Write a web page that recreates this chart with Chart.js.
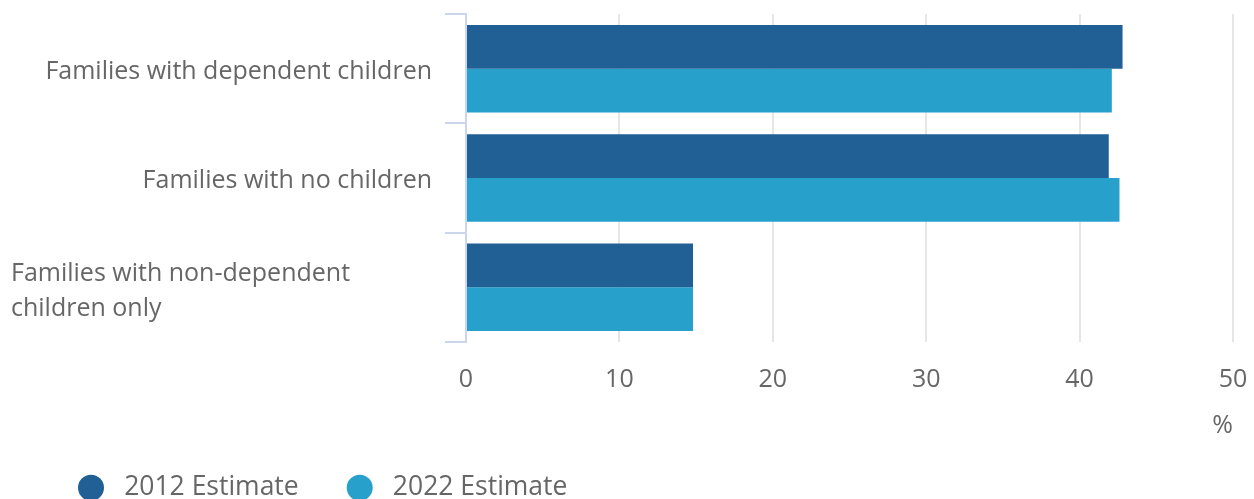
<!DOCTYPE html>
<html lang="en">
  <head>
    <meta charset="UTF-8" />
    <title>Families by type</title>
    <script src="https://cdn.jsdelivr.net/npm/chart.js@4.4.1/dist/chart.umd.min.js"></script>
    <style>
      html, body { margin: 0; padding: 0; background: #fff; overflow: hidden; }
      #chart-wrapper { position: relative; width: 1254px; height: 511px; }
    </style>
  </head>
  <body>
    <div id="chart-wrapper">
      <canvas id="familyChart"></canvas>
    </div>
    <script>
      // ---- data ----
      const categories = [
        "Families with dependent children",
        "Families with no children",
        ["Families with non-dependent", "children only"],
      ];
      const seriesNames = ["2012 Estimate", "2022 Estimate"];
      const values2012 = [42.8, 41.9, 14.8];
      const values2022 = [42.1, 42.6, 14.8];
      const xTicks = [0, 10, 20, 30, 40, 50];

      const FONT = '"Open Sans", sans-serif';
      const TEXT = "#666666";
      const COLORS = ["#206095", "#27a0cc"];

      // category labels: single lines right aligned, wrapped label left aligned
      const yLabels = {
        id: "yLabels",
        afterDraw(chart) {
          const { ctx } = chart;
          const y = chart.scales.y;
          ctx.save();
          ctx.font = "25px " + FONT;
          ctx.fillStyle = TEXT;
          ctx.textBaseline = "middle";
          categories.forEach((label, i) => {
            const yc = y.getPixelForValue(i) + 3;
            if (Array.isArray(label)) {
              ctx.textAlign = "left";
              label.forEach((line, j) =>
                ctx.fillText(line, 11, yc + 1 + (j - (label.length - 1) / 2) * 35)
              );
            } else {
              ctx.textAlign = "right";
              ctx.fillText(label, chart.chartArea.left - 34, yc);
            }
          });
          ctx.restore();
        },
      };

      new Chart(document.getElementById("familyChart"), {
        type: "bar",
        data: {
          labels: categories,
          datasets: [values2012, values2022].map((vals, i) => ({
            label: seriesNames[i],
            data: vals,
            backgroundColor: COLORS[i],
            pointStyle: "circle",
            categoryPercentage: 0.8,
            barPercentage: 1.0,
          })),
        },
        plugins: [yLabels],
        options: {
          indexAxis: "y",
          responsive: true,
          maintainAspectRatio: false,
          animation: false,
          layout: { padding: { top: 14, right: 21, left: 30, bottom: 0 } },
          scales: {
            x: {
              min: 0,
              max: 50,
              afterBuildTicks: (scale) => {
                scale.ticks = xTicks.map((v) => ({ value: v }));
              },
              afterFit: (scale) => {
                scale.height = 84.5;
                scale.paddingLeft = 0;
                scale.paddingRight = 0;
              },
              grid: {
                color: (c) => (c.tick && c.tick.value === 0 ? "rgba(0,0,0,0)" : "#e6e6e6"),
                lineWidth: 2,
                drawTicks: false,
              },
              border: { display: false },
              ticks: {
                padding: 23,
                color: TEXT,
                font: { family: FONT, size: 25 },
              },
              title: {
                display: true,
                text: "%",
                align: "end",
                color: TEXT,
                font: { family: FONT, size: 25 },
                padding: { top: 0, bottom: -14 },
              },
            },
            y: {
              afterFit: (scale) => {
                scale.width = 436;
              },
              grid: {
                drawOnChartArea: false,
                drawTicks: true,
                tickLength: 21,
                color: "#ccd6eb",
                lineWidth: 2,
              },
              border: { display: true, color: "#ccd6eb", width: 2 },
              ticks: { display: false },
            },
          },
          plugins: {
            tooltip: { enabled: false },
            legend: {
              position: "bottom",
              align: "start",
              labels: {
                usePointStyle: true,
                pointStyleWidth: 26,
                boxHeight: 18.4,
                padding: 48,
                color: TEXT,
                font: { family: FONT, size: 26.5 },
                generateLabels: (chart) =>
                  Chart.defaults.plugins.legend.labels
                    .generateLabels(chart)
                    .map((l) => ({ ...l, text: " " + l.text })),
              },
            },
          },
        },
      });
    </script>
  </body>
</html>
